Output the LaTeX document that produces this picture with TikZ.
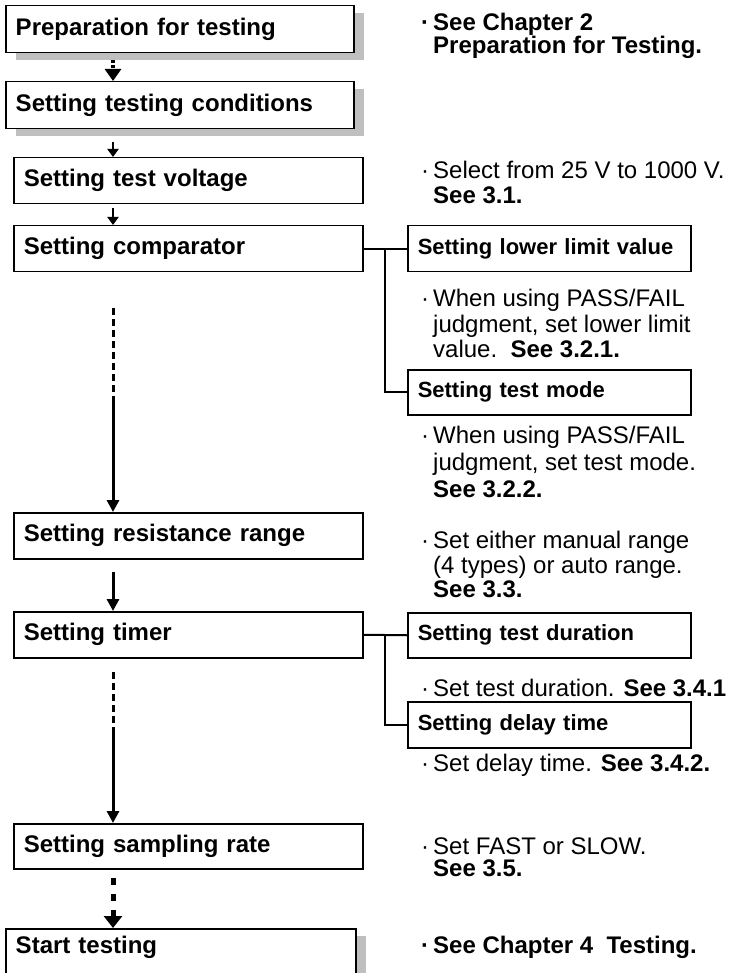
\documentclass[tikz,border=0pt]{standalone}
\usepackage{fontspec}
\setmainfont{Liberation Sans}
\usetikzlibrary{arrows.meta}
\usetikzlibrary{shadows}
\usetikzlibrary{positioning}
\tikzset{stepbox/.style = {draw, line width = 1.5, rectangle, anchor = north west,
                           inner xsep = 10, inner ysep = 0, align = left,
                           font = \fontsize{24}{24}\selectfont\bfseries}}
\tikzset{subbox/.style = {draw, line width = 1.5, rectangle, anchor = north west,
                          minimum width = 283, text width = 263, inner xsep = 10,
                          inner ysep = 0, align = left,
                          font = \fontsize{22}{22}\selectfont\bfseries}}
\tikzset{shade/.style = {drop shadow = {shadow xshift = 10pt, shadow yshift = -7pt,
                                        fill = black!25, opacity = 1}}}
\tikzset{note/.style = {anchor = north west, inner sep = 0, align = left,
                        font = \fontsize{24}{24.5}\selectfont}}
\tikzset{smallarr/.style = {line width = 2.2, -{Triangle[length = 8pt, width = 11pt]}}}
\tikzset{longarr/.style = {line width = 3, -{Triangle[length = 12pt, width = 12pt]}}}
\tikzset{dashline/.style = {line width = 3, dash pattern = on 7pt off 4pt}}
\tikzset{thickarr/.style = {line width = 5, dash pattern = on 7pt off 9pt,
                            -{Triangle[length = 12pt, width = 18pt]}}}
\tikzset{branch/.style = {line width = 2}}
\newcommand{\bul}{\makebox[16pt][c]{·}}
\newcommand{\noteind}{\hspace*{16pt}}

\begin{document}
\begin{tikzpicture}[x = 1pt, y = -1pt]
          \useasboundingbox (0,0) rectangle (733,973);
          \node [stepbox, shade, fill = white, minimum width = 348, text width = 328,
                 minimum height = 47] (prep) at (5,5) {Preparation for testing};
          \node [stepbox, shade, fill = white, minimum width = 348, text width = 328,
                 minimum height = 47] (cond) at (5,81) {Setting testing conditions};
          \node [stepbox, minimum width = 349, text width = 329, minimum height = 46]
                (volt) at (13,157) {Setting test voltage};
          \node [stepbox, minimum width = 349, text width = 329, minimum height = 46]
                (comp) at (13,225) {Setting comparator};
          \node [stepbox, minimum width = 349, text width = 329, minimum height = 46]
                (res) at (13,512) {Setting resistance range};
          \node [stepbox, minimum width = 349, text width = 329, minimum height = 46]
                (timer) at (13,611) {Setting timer};
          \node [stepbox, minimum width = 349, text width = 329, minimum height = 45]
                (samp) at (13,823) {Setting sampling rate};
          \node [stepbox, shade, fill = white, minimum width = 350, text width = 330,
                 text height = 25, text depth = 45] (start) at (5,928) {Start testing};

          \node [subbox, minimum height = 46] (low) at (407,225) {Setting lower limit value};
          \node [subbox, minimum height = 45] (mode) at (407,369) {Setting test mode};
          \node [subbox, minimum height = 45] (dur) at (407,612) {Setting test duration};
          \node [subbox, minimum height = 46] (delay) at (407,701) {Setting delay time};

          \node [note, font = \fontsize{24}{23}\selectfont\bfseries] (n1) at (417,13)
                {\bul See Chapter 2\\ \noteind Preparation for Testing.};
          \node [note] (n2) at (417,161) {\bul Select from 25 V to 1000 V.\\ \noteind\textbf{See 3.1.}};
          \node [note, font = \fontsize{24}{25.5}\selectfont] (n3) at (417,289)
                {\bul When using PASS/FAIL\\ \noteind judgment, set lower limit\\
                 \noteind value.\ \ \textbf{See 3.2.1.}};
          \node [note, font = \fontsize{24}{27}\selectfont] (n4) at (417,426)
                {\bul When using PASS/FAIL\\ \noteind judgment, set test mode.\\
                 \noteind\textbf{See 3.2.2.}};
          \node [note] (n5) at (417,531) {\bul Set either manual range\\
                 \noteind (4 types) or auto range.\\ \noteind\textbf{See 3.3.}};
          \node [note] (n6) at (417,679) {\bul Set test duration. \textbf{See 3.4.1}};
          \node [note] (n7) at (417,754) {\bul Set delay time. \textbf{See 3.4.2.}};
          \node [note, font = \fontsize{24}{22}\selectfont] (n8) at (417,838)
                {\bul Set FAST or SLOW.\\ \noteind\textbf{See 3.5.}};
          \node [note, font = \fontsize{24}{24}\selectfont\bfseries] (n9) at (417,936)
                {\bul See Chapter 4\ \ Testing.};

          \coordinate (a1) at (113,60);
          \coordinate (b1) at (113,142);
          \coordinate (c1) at (113,208);
          \coordinate (d1) at (113,308);
          \coordinate (d2) at (113,400);
          \coordinate (e1) at (113,572);
          \coordinate (f1) at (113,672);
          \coordinate (f2) at (113,733);
          \coordinate (g1) at (113,878);
          \coordinate (j1) at (385,0);

          \draw [line width = 4, dash pattern = on 3pt off 2pt,
                 -{Triangle[length = 12pt, width = 16pt]}] (a1) -- (a1 |- cond.north);
          \draw [smallarr] (b1) -- (b1 |- volt.north);
          \draw [smallarr] (c1) -- (c1 |- comp.north);
          \draw [dashline] (d1) -- (d2);
          \draw [longarr] (d2) -- (d2 |- res.north);
          \draw [longarr] (e1) -- (e1 |- timer.north);
          \draw [dashline] (f1) -- (f2);
          \draw [longarr] (f2) -- (f2 |- samp.north);
          \draw [thickarr] (g1) -- (g1 |- start.north);

          \draw [branch] (comp.east) -- (low.west);
          \draw [branch] (j1 |- comp.east) |- (mode.west);
          \draw [branch] (timer.east) -- (dur.west);
          \draw [branch] (j1 |- timer.east) |- (delay.west);
        \end{tikzpicture}
\end{document}
